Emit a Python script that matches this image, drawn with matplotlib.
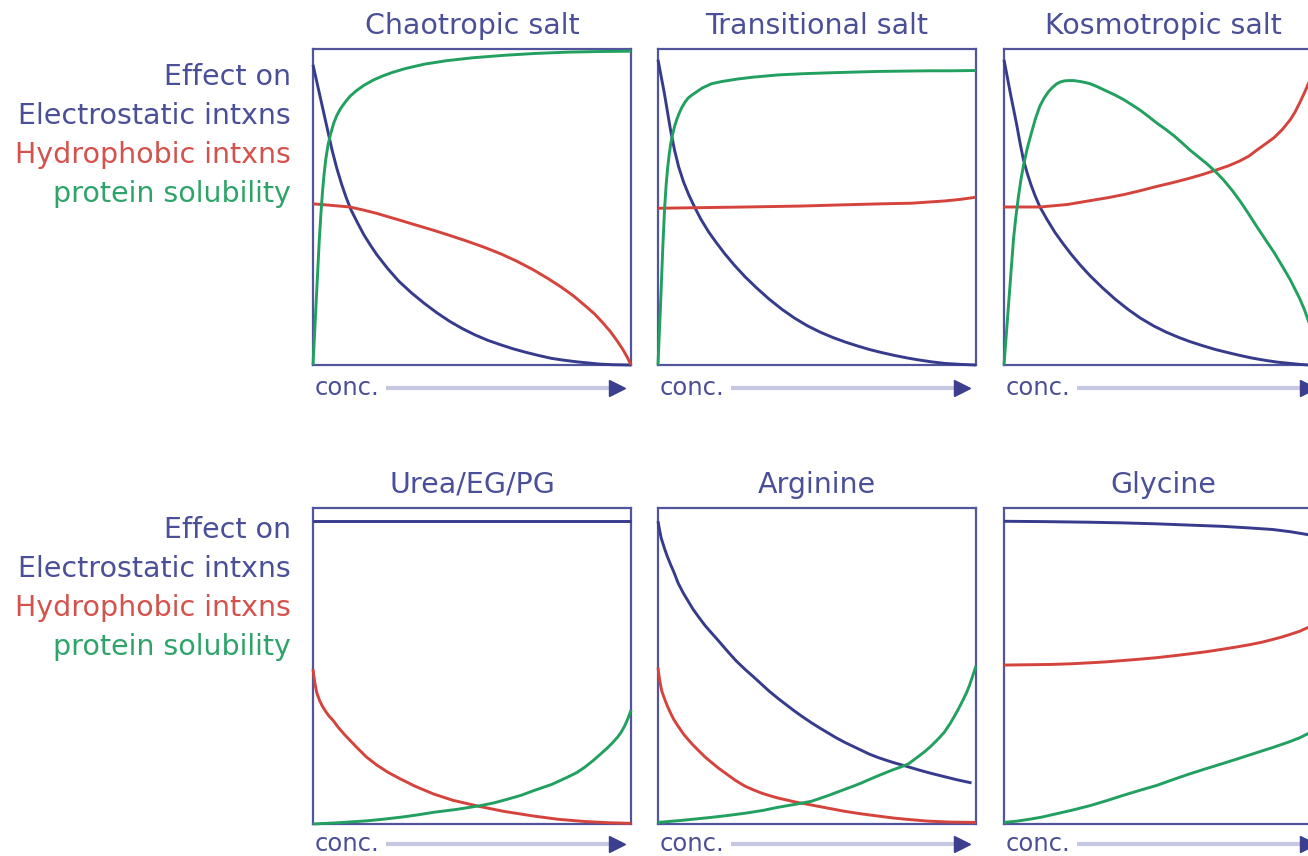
import numpy as np
import matplotlib.pyplot as plt

# colours
NAVY = "#363b8c"
RED = "#d4433c"
GREEN = "#22a060"
FRAME = "#51559c"
TXT_BLUE = "#4b4f97"
TXT_RED = "#d4524c"
TXT_GREEN = "#2ea46a"

titles = ["Chaotropic salt", "Transitional salt", "Kosmotropic salt",
          "Urea/EG/PG", "Arginine", "Glycine"]
row_labels = ["Effect on", "Electrostatic intxns", "Hydrophobic intxns", "protein solubility"]
row_label_colors = [TXT_BLUE, TXT_BLUE, TXT_RED, TXT_GREEN]

# --- Chaotropic salt ---
chao_elec_x = [0, .01, .02, .03, .04, .05, .06, .075, .09, .105, .12, .14, .16, .18, .20, .235, .27, .31, .35,
               .39, .43, .47, .51, .55, .59, .63, .67, .71, .75, .79, .83, .87, .9, .94, 1.0]
chao_elec_y = [.95, .905, .86, .815, .77, .725, .68, .622, .572, .528, .49, .45, .412, .38, .35, .305, .265, .228,
               .195, .165, .138, .115, .095, .078, .064, .051, .040, .030, .021, .015, .010, .006, .003, .001, 0]
chao_hyd_x = [0, .06, .116, .16, .2, .24, .274, .32, .38, .43, .484, .54, .59, .64, .695, .74, .78, .82, .853,
              .885, .91, .935, .958, .975, .988, 1.0]
chao_hyd_y = [.51, .505, .50, .49, .48, .468, .458, .444, .426, .41, .392, .372, .352, .329, .30, .273, .247, .218,
              .19, .162, .135, .106, .074, .048, .025, 0]
chao_sol_x = [0, .005, .01, .015, .02, .025, .03, .035, .04, .047, .055, .065, .075, .087, .1, .116, .135, .16,
              .19, .22, .25, .29, .35, .42, .5, .6, .7, .8, .9, 1.0]
chao_sol_y = [0, .1, .2, .3, .4, .48, .55, .605, .65, .695, .73, .765, .79, .812, .83, .85, .867, .885, .902,
              .915, .926, .938, .952, .963, .972, .98, .986, .99, .992, .993]

# --- Transitional salt ---
trans_elec_x = [0, .01, .02, .03, .04, .052, .065, .08, .097, .115, .135, .16, .185, .21, .24, .273, .31, .35,
                .39, .43, .47, .51, .55, .588, .625, .665, .705, .745, .785, .82, .86, .902, .95, 1.0]
trans_elec_y = [.966, .913, .86, .8, .74, .68, .627, .58, .538, .50, .461, .42, .385, .352, .316, .28, .244, .208,
                .176, .148, .124, .104, .087, .073, .061, .049, .039, .03, .022, .016, .01, .005, .002, 0]
trans_hyd_x = [0, .273, .45, .588, .7, .797, .9, .95, 1.0]
trans_hyd_y = [.496, .50, .503, .507, .51, .512, .519, .524, .531]
trans_sol_x = [0, .005, .01, .015, .021, .026, .03, .035, .04, .046, .052, .06, .068, .075, .085, .095, .105,
               .115, .128, .14, .155, .168, .2, .25, .3, .378, .46, .55, .62, .693, .77, .85, .92, 1.0]
trans_sol_y = [0, .12, .24, .37, .50, .575, .62, .665, .70, .73, .755, .78, .8, .815, .832, .845, .853, .86,
               .869, .877, .884, .89, .897, .905, .911, .918, .922, .925, .927, .929, .93, .931, .931, .932]

# --- Kosmotropic salt ---
kosmo_elec_x = [0, .01, .02, .03, .04, .05, .061, .073, .085, .098, .113, .135, .16, .185, .21, .24, .271, .31,
                .35, .39, .428, .47, .51, .55, .585, .625, .665, .705, .743, .78, .82, .86, .9, .93, .957, 1.0]
kosmo_elec_y = [.966, .913, .86, .81, .76, .705, .65, .607, .57, .535, .50, .461, .42, .385, .352, .316, .282,
                .244, .208, .176, .149, .124, .104, .087, .074, .061, .049, .039, .03, .022, .015, .009, .005,
                .002, 0, 0]
kosmo_hyd_x = [0, .113, .2, .27, .33, .38, .43, .48, .53, .58, .625, .67, .705, .74, .77, .795, .82, .85, .875,
               .9, .915, .93, .945, .957, .97, .98, 1.0]
kosmo_hyd_y = [.50, .50, .508, .52, .53, .54, .552, .565, .577, .59, .603, .618, .63, .645, .661, .68, .698, .72,
               .745, .776, .8, .83, .862, .89, .925, .95, 1.0]
kosmo_sol_x = [0, .0075, .015, .0225, .03, .0375, .045, .053, .061, .073, .085, .099, .113, .127, .14, .153,
               .166, .178, .19, .2, .208, .22, .24, .255, .271, .295, .32, .348, .376, .403, .43, .455, .48,
               .508, .535, .56, .585, .612, .64, .665, .69, .718, .745, .77, .795, .822, .85, .875, .9, .915,
               .93, .944, .957, .97, .98, .99, 1.0]
kosmo_sol_y = [0, .1, .2, .3, .40, .47, .53, .585, .63, .685, .73, .78, .82, .846, .865, .879, .89, .896, .899,
               .90, .90, .90, .897, .894, .89, .88, .868, .855, .84, .823, .805, .786, .766, .746, .725, .703,
               .68, .658, .635, .612, .586, .552, .515, .477, .438, .397, .355, .313, .27, .24, .21, .177, .14,
               .105, .075, .04, 0]

# --- Urea/EG/PG ---
urea_elec_x = [0, 1.0]
urea_elec_y = [.958, .958]
urea_hyd_x = [0, .003, .007, .012, .021, .03, .04, .05, .063, .08, .1, .116, .14, .168, .2, .235, .274, .32,
              .379, .44, .526, .6, .695, .77, .853, .93, 1.0]
urea_hyd_y = [.49, .465, .44, .415, .39, .372, .356, .342, .328, .305, .282, .265, .24, .212, .187, .164, .143,
              .12, .095, .075, .055, .04, .025, .015, .008, .004, .002]
urea_sol_x = [0, .08, .168, .22, .28, .33, .379, .45, .526, .57, .61, .655, .695, .75, .8, .83, .855, .88, .905,
              .925, .94, .958, .97, .98, .99, 1.0]
urea_sol_y = [0, .004, .01, .015, .022, .029, .037, .046, .058, .067, .078, .091, .106, .125, .148, .163, .18,
              .2, .222, .24, .255, .275, .292, .31, .333, .36]

# --- Arginine ---
arg_elec_x = [0, .005, .01, .021, .03, .04, .05, .063, .08, .095, .11, .13, .148, .168, .19, .22, .245, .273,
              .3, .325, .35, .378, .405, .43, .455, .483, .51, .535, .56, .588, .615, .64, .665, .693, .72, .745,
              .78, .82, .86, .9, .94, .986]
arg_elec_y = [.958, .93, .905, .87, .845, .82, .797, .763, .73, .705, .68, .652, .628, .605, .58, .545, .517, .49,
              .466, .443, .42, .397, .376, .357, .339, .32, .303, .288, .273, .258, .245, .233, .221, .21, .201,
              .193, .183, .171, .16, .15, .14, .13]
arg_hyd_x = [0, .003, .007, .012, .021, .03, .04, .05, .063, .08, .095, .11, .13, .148, .168, .19, .22, .245,
             .273, .3, .325, .35, .378, .43, .483, .535, .588, .64, .693, .74, .78, .85, .92, 1.0]
arg_hyd_y = [.495, .47, .445, .42, .395, .372, .35, .33, .31, .285, .267, .25, .23, .212, .195, .177, .155, .137,
             .12, .108, .098, .09, .082, .07, .06, .05, .04, .032, .025, .019, .015, .009, .006, .005]
arg_sol_x = [0, .08, .168, .22, .28, .33, .378, .43, .483, .535, .588, .615, .64, .665, .693, .715, .74, .765,
             .787, .81, .84, .86, .88, .9, .92, .94, .955, .97, .98, .99, 1.0]
arg_sol_y = [.005, .012, .021, .027, .035, .043, .053, .062, .072, .09, .11, .12, .13, .141, .153, .162, .172,
             .181, .19, .207, .23, .248, .268, .29, .32, .355, .384, .415, .44, .47, .5]

# --- Glycine ---
gly_elec_x = [0, .12, .268, .37, .477, .58, .687, .77, .845, .9, .954, 1.0]
gly_elec_y = [.958, .957, .955, .953, .95, .946, .942, .937, .932, .925, .916, .905]
gly_hyd_x = [0, .08, .15, .21, .268, .32, .37, .42, .477, .53, .58, .635, .687, .73, .77, .81, .845, .875, .9,
             .93, .954, .98, 1.0]
gly_hyd_y = [.503, .504, .505, .507, .51, .513, .517, .521, .526, .532, .538, .545, .553, .56, .567, .575, .584,
             .592, .6, .61, .621, .632, .64]
gly_sol_x = [0, .04, .08, .12, .163, .215, .27, .32, .373, .425, .48, .53, .582, .635, .69, .74, .792, .845,
             .897, .93, .954, .98, 1.0]
gly_sol_y = [.005, .009, .015, .022, .032, .044, .058, .073, .09, .106, .122, .14, .158, .175, .192, .208, .225,
             .242, .26, .273, .285, .296, .305]

panels = [
    [(chao_elec_x, chao_elec_y), (chao_hyd_x, chao_hyd_y), (chao_sol_x, chao_sol_y)],
    [(trans_elec_x, trans_elec_y), (trans_hyd_x, trans_hyd_y), (trans_sol_x, trans_sol_y)],
    [(kosmo_elec_x, kosmo_elec_y), (kosmo_hyd_x, kosmo_hyd_y), (kosmo_sol_x, kosmo_sol_y)],
    [(urea_elec_x, urea_elec_y), (urea_hyd_x, urea_hyd_y), (urea_sol_x, urea_sol_y)],
    [(arg_elec_x, arg_elec_y), (arg_hyd_x, arg_hyd_y), (arg_sol_x, arg_sol_y)],
    [(gly_elec_x, gly_elec_y), (gly_hyd_x, gly_hyd_y), (gly_sol_x, gly_sol_y)],
]
curve_colors = [NAVY, RED, GREEN]

W, H = 1308, 856
fig = plt.figure(figsize=(W / 100, H / 100), dpi=100)

box_left = [313, 658, 1004]
box_top = [49, 508]
box_w, box_h = 318, 316
label_base = [[85, 124, 163, 202], [538, 577, 616, 655]]
conc_y = [-0.073, -0.062]

for i, curves in enumerate(panels):
    r, c = divmod(i, 3)
    x0 = box_left[c] / W
    y0 = 1 - (box_top[r] + box_h) / H
    ax = fig.add_axes([x0, y0, box_w / W, box_h / H])
    ax.set_xlim(0, 1)
    ax.set_ylim(0, 1)
    ax.set_xticks([])
    ax.set_yticks([])
    for s in ax.spines.values():
        s.set_color(FRAME)
        s.set_linewidth(1.6)

    for (xs, ys), col in zip(curves, curve_colors):
        ax.plot(xs, ys, color=col, lw=2.1, clip_on=False, zorder=3,
                solid_capstyle="butt", solid_joinstyle="round")

    ax.set_title(titles[i], fontsize=20.5, color=TXT_BLUE, pad=11)

    # concentration arrow under each box
    cy = conc_y[r]
    ax.text(0.006, cy, "conc.", transform=ax.transAxes, fontsize=17.5,
            color=TXT_BLUE, ha="left", va="center")
    ax.plot([0.228, 0.95], [cy, cy], transform=ax.transAxes,
            color="#c6c8e2", lw=3, clip_on=False, solid_capstyle="butt")
    ax.plot([0.955], [cy], transform=ax.transAxes, marker=">",
            markersize=11, color="#3c3f8e", clip_on=False)

# row labels on the left
for r in range(2):
    for text, col, yb in zip(row_labels, row_label_colors, label_base[r]):
        fig.text(291 / W, 1 - yb / H, text, fontsize=20.5, color=col,
                 ha="right", va="baseline")

fig.savefig("out.png", dpi=100)
